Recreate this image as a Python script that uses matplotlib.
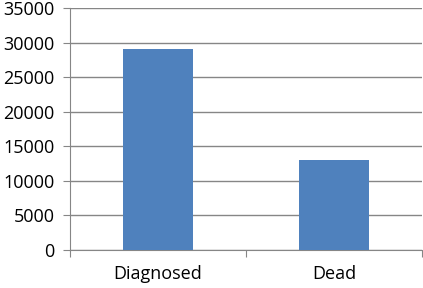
import matplotlib
matplotlib.use("Agg")
import matplotlib.pyplot as plt
import numpy as np

# chart data
categories = ["Diagnosed", "Dead"]
values = [29000, 13000]
yticks = [0, 5000, 10000, 15000, 20000, 25000, 30000, 35000]

plt.rcParams['font.family'] = ['Open Sans', 'DejaVu Sans']

fig = plt.figure(figsize=(4.23, 2.88), dpi=100)
ax = fig.add_axes([70 / 423, 38 / 288, 352 / 423, 242 / 288])

x = np.arange(len(categories))
ax.bar(x, values, width=0.4, color="#4F81BD", zorder=3)

ax.set_xlim(-0.5, len(categories) - 0.5)
ax.set_ylim(0, 35000)
ax.set_yticks(yticks)
ax.set_yticklabels([str(v) for v in yticks], fontsize=13)
ax.yaxis.grid(True, color="#868686", linewidth=1, zorder=0)

# category labels between tick marks
ax.set_xticks([-0.5, 0.5, 1.5])
ax.set_xticklabels([])
ax.set_xticks(x, minor=True)
ax.set_xticklabels(categories, minor=True, fontsize=13)
ax.tick_params(axis="x", which="minor", length=0, pad=11)
ax.tick_params(axis="x", which="major", length=5, color="#868686", direction="out")
ax.tick_params(axis="y", length=5, color="#868686", pad=6)

for s in ["top", "right"]:
    ax.spines[s].set_visible(False)
for s in ["left", "bottom"]:
    ax.spines[s].set_color("#868686")

fig.savefig("out.png", dpi=100)
